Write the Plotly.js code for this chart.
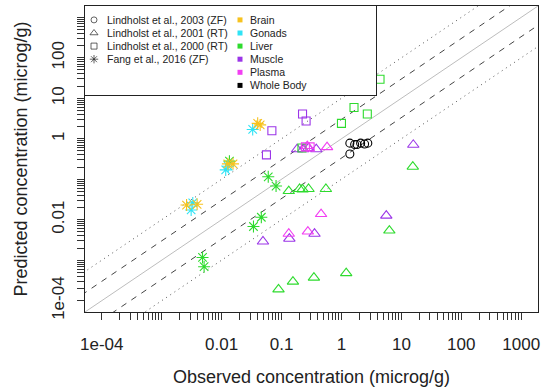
<!DOCTYPE html>
<html><head><meta charset="utf-8">
<script src="https://cdn.plot.ly/plotly-3.0.1.min.js"></script>
<style>html,body{margin:0;padding:0;background:#fff}#chart{width:544px;height:387px}</style>
</head><body><div id="chart"></div>
<script>
// ---------- data (observed x, predicted y, microg/g) ----------
// Fang et al., 2016 (ZF) - asterisks
const fangBrainX  = [0.040, 0.044, 0.0127, 0.0155, 0.0026, 0.0039];
const fangBrainY  = [2.4, 2.2, 0.24, 0.24, 0.023, 0.024];
const fangGonadX  = [0.033, 0.0117, 0.0129, 0.0031, 0.0033];
const fangGonadY  = [1.7, 0.17, 0.21, 0.0174, 0.026];
const fangLiverX  = [0.060, 0.081, 0.046, 0.034, 0.0048, 0.0051, 0.0135];
const fangLiverY  = [0.115, 0.068, 0.0115, 0.0068, 0.00117, 0.00069, 0.28];
// Lindholst et al., 2001 (RT) - triangles
const l01MuscleX  = [0.182, 0.229, 0.282, 0.38, 15.8, 0.049, 5.6, 0.355, 0.135];
const l01MuscleY  = [0.55, 0.55, 0.59, 0.55, 0.71, 0.0029, 0.0126, 0.0045, 0.0034];
const l01PlasmaX  = [0.575, 0.269, 0.457, 0.275, 0.132];
const l01PlasmaY  = [0.62, 0.66, 0.0138, 0.0051, 0.0045];
const l01LiverX   = [0.132, 0.2, 0.224, 0.282, 0.55, 15.5, 6.3, 1.2, 0.347, 0.155, 0.089];
const l01LiverY   = [0.051, 0.0575, 0.056, 0.0575, 0.0575, 0.204, 0.0054, 0.00048, 0.00037, 0.000295, 0.00019];
// Lindholst et al., 2000 (RT) - squares
const l00LiverX   = [4.4, 1.62, 2.7, 1.0, 0.219];
const l00LiverY   = [29.5, 5.9, 4.1, 2.4, 0.59];
const l00MuscleX  = [0.224, 0.257, 0.069, 0.056];
const l00MuscleY  = [4.1, 2.75, 1.58, 0.40];
const l00PlasmaX  = [0.25, 0.30];
const l00PlasmaY  = [0.63, 0.63];
// Lindholst et al., 2003 (ZF) - circles, whole body
const l03WholeX   = [1.38, 1.66, 1.82, 2.09, 2.43, 2.75, 1.38];
const l03WholeY   = [0.78, 0.72, 0.72, 0.78, 0.74, 0.78, 0.42];

// reference lines: fold factors
const foldSolid  = [1];
const foldDashed = [3, 1/3];
const foldDotted = [10, 1/10];
const lineXEnds  = [1e-5, 1e4];

// legend content
const studyLabels  = ["Lindholst et al., 2003 (ZF)", "Lindholst et al., 2001 (RT)", "Lindholst et al., 2000 (RT)", "Fang et al., 2016 (ZF)"];
const studySymbols = ["circle-open", "triangle-up-open", "square-open", "asterisk-open"];
const tissueLabels = ["Brain", "Gonads", "Liver", "Muscle", "Plasma", "Whole Body"];
const tissueColors = ["#F7C21E", "#2FE3F5", "#2EDB2E", "#9B35E8", "#F23FF2", "#000000"];

// axis ticks
const tickDecades = [-4, -3, -2, -1, 0, 1, 2];
const xLabelled = ["1e-04", "", "0.01", "0.1", "1", "10", "100", "1000"];
const yLabelled = ["1e-04", "", "0.01", "", "1", "10", "100", ""];

// ---------- build ----------
const col = n => tissueColors[tissueLabels.indexOf(n)];
const FONT = "Liberation Sans, Arial, Helvetica, sans-serif";

function pts(x, y, sym, tissue, size) {
  return {x: x, y: y, type: "scatter", mode: "markers", xaxis: "x", yaxis: "y", showlegend: false, hoverinfo: "skip",
    marker: {symbol: sym, size: size, color: col(tissue), line: {color: col(tissue), width: 1.1}}};
}
function refLine(f, dash, color) {
  return {x: lineXEnds, y: lineXEnds.map(v => v * f), type: "scatter", mode: "lines", showlegend: false, hoverinfo: "skip",
    line: {color: color, width: 1, dash: dash}};
}

const traces = [];
foldSolid.forEach(f => traces.push(refLine(f, "solid", "#BDBDBD")));
foldDashed.forEach(f => traces.push(refLine(f, "6px,6px", "#444444")));
foldDotted.forEach(f => traces.push(refLine(f, "1px,4px", "#555555")));

traces.push(pts(l01LiverX, l01LiverY, "triangle-up-open", "Liver", 10));
traces.push(pts(l01MuscleX, l01MuscleY, "triangle-up-open", "Muscle", 10));
traces.push(pts(l01PlasmaX, l01PlasmaY, "triangle-up-open", "Plasma", 10));
traces.push(pts(l00LiverX, l00LiverY, "square-open", "Liver", 8));
traces.push(pts(l00MuscleX, l00MuscleY, "square-open", "Muscle", 8));
traces.push(pts(l00PlasmaX, l00PlasmaY, "square-open", "Plasma", 8));
traces.push(pts(l03WholeX, l03WholeY, "circle-open", "Whole Body", 8));
traces.push(pts(fangLiverX, fangLiverY, "asterisk-open", "Liver", 10));
traces.push(pts(fangGonadX, fangGonadY, "asterisk-open", "Gonads", 10));
traces.push(pts(fangBrainX, fangBrainY, "asterisk-open", "Brain", 10));

// legend drawn on its own small subplot (x2/y2), units = pixels from legend corner
const rowY = i => 13.9 + 13.1 * i;
traces.push({x: studyLabels.map(() => 9), y: studyLabels.map((_, i) => rowY(i)), xaxis: "x2", yaxis: "y2",
  type: "scatter", mode: "markers", showlegend: false, hoverinfo: "skip",
  marker: {symbol: studySymbols, size: [6, 7, 6, 7], color: "#222", line: {color: "#222", width: 1}}});
traces.push({x: tissueLabels.map(() => 155), y: tissueLabels.map((_, i) => rowY(i)), xaxis: "x2", yaxis: "y2",
  type: "scatter", mode: "markers", showlegend: false, hoverinfo: "skip",
  marker: {symbol: "square", size: 5, color: tissueColors}});

const annotations = [];
studyLabels.forEach((t, i) => annotations.push({xref: "x2", yref: "y2", x: 20, y: rowY(i), text: t, showarrow: false,
  xanchor: "left", yanchor: "middle", font: {family: FONT, size: 10.5, color: "#222"}}));
tissueLabels.forEach((t, i) => annotations.push({xref: "x2", yref: "y2", x: 163, y: rowY(i), text: t, showarrow: false,
  xanchor: "left", yanchor: "middle", font: {family: FONT, size: 10.5, color: "#222"}}));

const tickVals = [], xText = [], yText = [];
tickDecades.concat([3]).forEach((d, k) => {
  const mults = d === 3 ? [1] : [1,2,3,4,5,6,7,8,9];
  mults.forEach(m => {
    tickVals.push(m * Math.pow(10, d));
    xText.push(m === 1 ? xLabelled[k] : "");
    yText.push(m === 1 ? yLabelled[k] : "");
  });
});

const W = 544, H = 387, L = 85, R = 6, T = 6, B = 75;
const pw = W - L - R, ph = H - T - B;
const legW = 291, legH = 89;

const axCommon = {type: "log", range: [-4.28, 3.28], tickmode: "array", tickvals: tickVals,
  ticks: "outside", ticklen: 7, tickwidth: 1, tickcolor: "#333", showline: true, mirror: true,
  linecolor: "#222", linewidth: 1, showgrid: false, zeroline: false,
  tickfont: {family: FONT, size: 17, color: "#222"}};

const layout = {
  width: W, height: H, margin: {l: L, r: R, t: T, b: B},
  paper_bgcolor: "#fff", plot_bgcolor: "#fff", showlegend: false,
  font: {family: FONT, color: "#222"},
  xaxis: Object.assign({}, axCommon, {ticktext: xText, domain: [0, 1], anchor: "y", ticklabelstandoff: 10,
    title: {text: "Observed concentration (microg/g)", font: {family: FONT, size: 18, color: "#222"}, standoff: 22}}),
  yaxis: Object.assign({}, axCommon, {ticktext: yText, domain: [0, 1], anchor: "x", tickangle: -90, ticklabelstandoff: 6,
    title: {text: "Predicted concentration (microg/g)", font: {family: FONT, size: 18, color: "#222"}, standoff: 16}}),
  xaxis2: {domain: [0, legW / pw], range: [0, legW], anchor: "y2", showline: true, mirror: true, linecolor: "#222",
    linewidth: 1, showgrid: false, zeroline: false, showticklabels: false, ticks: "", fixedrange: true},
  yaxis2: {domain: [1 - legH / ph, 1], range: [legH, 0], anchor: "x2", showline: true, mirror: true, linecolor: "#222",
    linewidth: 1, showgrid: false, zeroline: false, showticklabels: false, ticks: "", fixedrange: true},
  annotations: annotations
};

Plotly.newPlot("chart", traces, layout, {staticPlot: true, displayModeBar: false});
</script>
</body></html>
